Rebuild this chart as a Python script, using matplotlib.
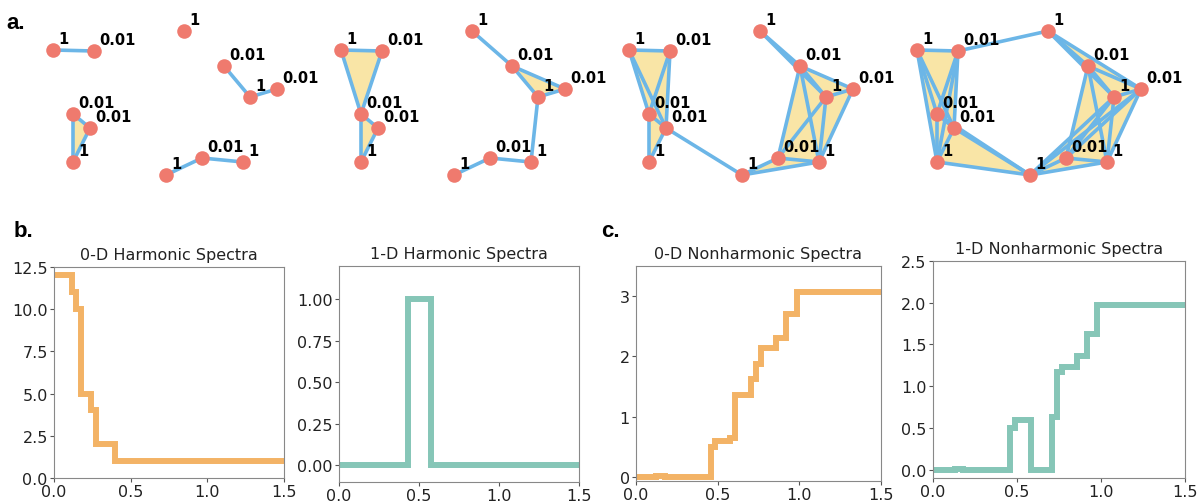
"""Simplicial filtration sketch (a) plus harmonic / nonharmonic spectra (b, c)."""
import matplotlib
matplotlib.use("Agg")
import matplotlib.pyplot as plt
from matplotlib.patches import Polygon

# ---- point cloud (pixel-like coords of the first stage) ----
node_x = [53, 94, 73, 90, 73, 184, 224, 250, 277, 202, 243, 166]
node_y = [51, 52, 115, 129, 163, 32, 67, 98, 90, 159, 163, 176]
node_w = ["1", "0.01", "0.01", "0.01", "1", "1", "0.01", "1", "0.01", "0.01", "1", "1"]
stage_shift = [0, 288, 576, 864]

stage_edges = [
    [(0, 1), (2, 3), (2, 4), (3, 4), (6, 7), (7, 8), (11, 9), (9, 10)],
    [(0, 1), (0, 2), (1, 2), (2, 3), (2, 4), (3, 4), (5, 6), (6, 7), (6, 8),
     (7, 8), (7, 10), (11, 9), (9, 10)],
    [(0, 1), (0, 2), (0, 3), (1, 2), (1, 3), (2, 3), (2, 4), (3, 4), (3, 11),
     (5, 6), (5, 7), (6, 7), (6, 8), (7, 8), (6, 9), (6, 10), (7, 9), (7, 10),
     (8, 10), (9, 10), (9, 11), (10, 11)],
    [(0, 1), (0, 2), (0, 3), (0, 4), (1, 2), (1, 3), (1, 4), (2, 3), (2, 4),
     (3, 4), (1, 5), (2, 11), (3, 11), (4, 11), (5, 6), (5, 7), (5, 8),
     (6, 7), (6, 8), (6, 9), (6, 10), (7, 8), (7, 9), (7, 10), (7, 11),
     (8, 9), (8, 10), (8, 11), (9, 10), (9, 11), (10, 11)],
]
stage_tris = [
    [(2, 3, 4)],
    [(0, 1, 2), (2, 3, 4), (6, 7, 8)],
    [(0, 1, 2), (0, 1, 3), (0, 2, 3), (1, 2, 3), (2, 3, 4), (5, 6, 7),
     (6, 7, 8), (6, 9, 10), (6, 8, 10), (7, 9, 10), (9, 10, 11)],
    [(0, 1, 2), (0, 1, 3), (0, 1, 4), (0, 2, 4), (1, 3, 4), (2, 3, 4),
     (3, 4, 11), (2, 4, 11), (5, 6, 7), (5, 6, 8), (5, 7, 8), (6, 7, 8),
     (6, 8, 10), (6, 9, 10), (6, 7, 9), (7, 8, 10), (7, 9, 10), (9, 10, 11),
     (7, 9, 11), (8, 10, 11), (7, 10, 11), (8, 9, 11)],
]

# ---- spectra (step functions, post) ----
h0_x = [0, 0.117, 0.146, 0.178, 0.239, 0.272, 0.396, 1.5]
h0_y = [12, 11, 10, 5, 4, 2, 1, 1]
h1_x = [0, 0.433, 0.578, 1.5]
h1_y = [0, 1, 0, 0]
n0_x = [0, 0.12, 0.18, 0.459, 0.486, 0.578, 0.608, 0.706, 0.735, 0.765,
        0.857, 0.918, 0.986, 1.5]
n0_y = [0, 0.005, 0, 0.50, 0.60, 0.65, 1.36, 1.63, 1.88, 2.14, 2.31, 2.71,
        3.06, 3.06]
n1_x = [0, 0.13, 0.18, 0.459, 0.489, 0.582, 0.707, 0.737, 0.766, 0.855,
        0.919, 0.978, 1.5]
n1_y = [0, 0.01, 0, 0.50, 0.60, 0, 0.636, 1.17, 1.23, 1.36, 1.63, 1.97, 1.97]

ORANGE = "#F3B366"
TEAL = "#86C6B7"
NODE = "#EF7A6E"
EDGE = "#6CB6E7"
FILL = "#F9E5A6"

W, H = 1198, 502
fig = plt.figure(figsize=(W / 100, H / 100), dpi=100)

# ---- panel a ----
ax = fig.add_axes([0, 1 - 205 / H, 1, 205 / H])
ax.set_xlim(0, W); ax.set_ylim(205, 0); ax.axis("off")
for k, dx in enumerate(stage_shift):
    xs = [x + dx for x in node_x]
    for tri in stage_tris[k]:
        ax.add_patch(Polygon([(xs[i], node_y[i]) for i in tri], closed=True,
                             fc=FILL, ec="none", zorder=1))
    for i, j in stage_edges[k]:
        ax.plot([xs[i], xs[j]], [node_y[i], node_y[j]], color=EDGE, lw=2.6,
                solid_capstyle="round", zorder=2)
    ax.scatter(xs, node_y, s=110, color=NODE, zorder=3, linewidths=0)
    for x, y, w in zip(xs, node_y, node_w):
        ax.text(x + 5, y - 7, w, fontsize=10.5, fontweight="bold", ha="left",
                va="baseline", zorder=4)

# ---- panels b, c ----
specs = [
    ([54, 284, 268, 479], h0_x, h0_y, ORANGE, "0-D Harmonic Spectra",
     (0, 12.5), [0, 2.5, 5, 7.5, 10, 12.5], ["0.0", "2.5", "5.0", "7.5", "10.0", "12.5"]),
    ([339, 579, 267, 483], h1_x, h1_y, TEAL, "1-D Harmonic Spectra",
     (-0.1, 1.2), [0, 0.25, 0.5, 0.75, 1.0], ["0.00", "0.25", "0.50", "0.75", "1.00"]),
    ([636, 881, 267, 482], n0_x, n0_y, ORANGE, "0-D Nonharmonic Spectra",
     (-0.07, 3.5), [0, 1, 2, 3], ["0", "1", "2", "3"]),
    ([933, 1185, 262, 479], n1_x, n1_y, TEAL, "1-D Nonharmonic Spectra",
     (-0.1, 2.5), [0, 0.5, 1, 1.5, 2, 2.5], ["0.0", "0.5", "1.0", "1.5", "2.0", "2.5"]),
]
for (l, r, t, b), x, y, col, title, ylim, yt, ytl in specs:
    a = fig.add_axes([l / W, 1 - b / H, (r - l) / W, (b - t) / H])
    a.step(x, y, where="post", color=col, lw=4.3, solid_joinstyle="miter")
    a.set_xlim(0, 1.5); a.set_ylim(*ylim)
    a.set_xticks([0, 0.5, 1.0, 1.5]); a.set_xticklabels(["0.0", "0.5", "1.0", "1.5"])
    a.set_yticks(yt); a.set_yticklabels(ytl)
    a.tick_params(labelsize=11.5, length=3, pad=1.5, color="#555555",
                  labelcolor="#222222")
    for s in a.spines.values():
        s.set_color("#888888"); s.set_linewidth(0.8)
    a.set_title(title, fontsize=11.5, pad=6, color="#222222")

lab = dict(fontsize=16, fontweight="bold", family="Liberation Sans")
fig.text(6 / W, 1 - 29 / H, "a.", **lab)
fig.text(14 / W, 1 - 237 / H, "b.", **lab)
fig.text(601 / W, 1 - 237 / H, "c.", **lab)

fig.savefig("out.png", dpi=100)
